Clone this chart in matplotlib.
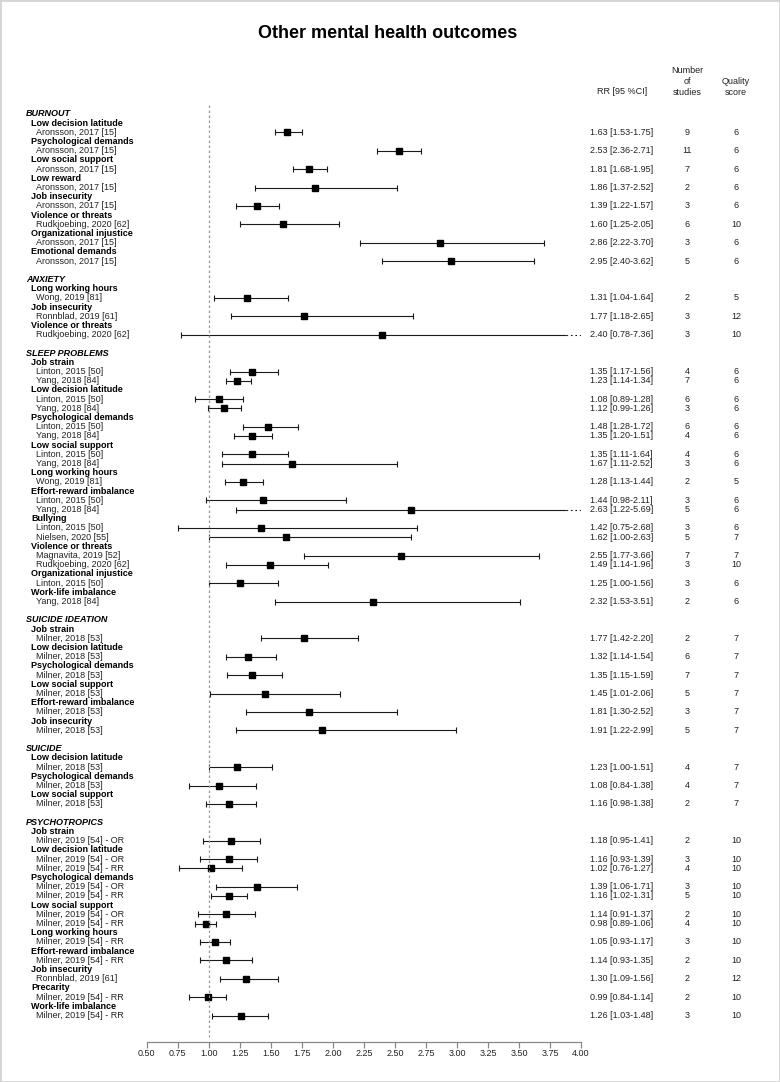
import matplotlib
matplotlib.use("Agg")
import matplotlib.pyplot as plt
from matplotlib.transforms import blended_transform_factory
from matplotlib.patches import Rectangle

plt.rcParams['font.family'] = ['Liberation Sans', 'DejaVu Sans']

# one entry per study row
outcome = (["BURNOUT"] * 8 + ["ANXIETY"] * 3 + ["SLEEP PROBLEMS"] * 17
           + ["SUICIDE IDEATION"] * 6 + ["SUICIDE"] * 3 + ["PSYCHOTROPICS"] * 12)
exposure = [
    "Low decision latitude", "Psychological demands", "Low social support", "Low reward",
    "Job insecurity", "Violence or threats", "Organizational injustice", "Emotional demands",
    "Long working hours", "Job insecurity", "Violence or threats",
    "Job strain", "Job strain", "Low decision latitude", "Low decision latitude",
    "Psychological demands", "Psychological demands", "Low social support", "Low social support",
    "Long working hours", "Effort-reward imbalance", "Effort-reward imbalance",
    "Bullying", "Bullying", "Violence or threats", "Violence or threats",
    "Organizational injustice", "Work-life imbalance",
    "Job strain", "Low decision latitude", "Psychological demands", "Low social support",
    "Effort-reward imbalance", "Job insecurity",
    "Low decision latitude", "Psychological demands", "Low social support",
    "Job strain", "Low decision latitude", "Low decision latitude",
    "Psychological demands", "Psychological demands", "Low social support", "Low social support",
    "Long working hours", "Effort-reward imbalance", "Job insecurity", "Precarity",
    "Work-life imbalance",
]
study = (
    ["Aronsson, 2017 [15]"] * 5 + ["Rudkjoebing, 2020 [62]"] + ["Aronsson, 2017 [15]"] * 2
    + ["Wong, 2019 [81]", "Ronnblad, 2019 [61]", "Rudkjoebing, 2020 [62]"]
    + ["Linton, 2015 [50]", "Yang, 2018 [84]"] * 4
    + ["Wong, 2019 [81]", "Linton, 2015 [50]", "Yang, 2018 [84]",
       "Linton, 2015 [50]", "Nielsen, 2020 [55]", "Magnavita, 2019 [52]",
       "Rudkjoebing, 2020 [62]", "Linton, 2015 [50]", "Yang, 2018 [84]"]
    + ["Milner, 2018 [53]"] * 9
    + ["Milner, 2019 [54] - OR", "Milner, 2019 [54] - OR", "Milner, 2019 [54] - RR",
       "Milner, 2019 [54] - OR", "Milner, 2019 [54] - RR", "Milner, 2019 [54] - OR",
       "Milner, 2019 [54] - RR", "Milner, 2019 [54] - RR", "Milner, 2019 [54] - RR",
       "Ronnblad, 2019 [61]", "Milner, 2019 [54] - RR", "Milner, 2019 [54] - RR"]
)
rr = [1.63, 2.53, 1.81, 1.86, 1.39, 1.60, 2.86, 2.95,
      1.31, 1.77, 2.40,
      1.35, 1.23, 1.08, 1.12, 1.48, 1.35, 1.35, 1.67, 1.28, 1.44, 2.63,
      1.42, 1.62, 2.55, 1.49, 1.25, 2.32,
      1.77, 1.32, 1.35, 1.45, 1.81, 1.91,
      1.23, 1.08, 1.16,
      1.18, 1.16, 1.02, 1.39, 1.16, 1.14, 0.98, 1.05, 1.14, 1.30, 0.99, 1.26]
lo = [1.53, 2.36, 1.68, 1.37, 1.22, 1.25, 2.22, 2.40,
      1.04, 1.18, 0.78,
      1.17, 1.14, 0.89, 0.99, 1.28, 1.20, 1.11, 1.11, 1.13, 0.98, 1.22,
      0.75, 1.00, 1.77, 1.14, 1.00, 1.53,
      1.42, 1.14, 1.15, 1.01, 1.30, 1.22,
      1.00, 0.84, 0.98,
      0.95, 0.93, 0.76, 1.06, 1.02, 0.91, 0.89, 0.93, 0.93, 1.09, 0.84, 1.03]
hi = [1.75, 2.71, 1.95, 2.52, 1.57, 2.05, 3.70, 3.62,
      1.64, 2.65, 7.36,
      1.56, 1.34, 1.28, 1.26, 1.72, 1.51, 1.64, 2.52, 1.44, 2.11, 5.69,
      2.68, 2.63, 3.66, 1.96, 1.56, 3.51,
      2.20, 1.54, 1.59, 2.06, 2.52, 2.99,
      1.51, 1.38, 1.38,
      1.41, 1.39, 1.27, 1.71, 1.31, 1.37, 1.06, 1.17, 1.35, 1.56, 1.14, 1.48]
n_studies = [9, 11, 7, 2, 3, 6, 3, 5,
             2, 3, 3,
             4, 7, 6, 3, 6, 4, 4, 3, 2, 3, 5, 3, 5, 7, 3, 3, 2,
             2, 6, 7, 5, 3, 5,
             4, 4, 2,
             2, 3, 4, 3, 5, 2, 4, 3, 2, 2, 2, 3]
quality = [6, 6, 6, 6, 6, 10, 6, 6,
           5, 12, 10,
           6, 6, 6, 6, 6, 6, 6, 6, 5, 6, 6, 6, 7, 7, 10, 6, 6,
           7, 7, 7, 7, 7, 7,
           7, 7, 7,
           10, 10, 10, 10, 10, 10, 10, 10, 10, 12, 10, 10]

xticks = [0.5, 0.75, 1.0, 1.25, 1.5, 1.75, 2.0, 2.25, 2.5, 2.75, 3.0, 3.25, 3.5, 3.75, 4.0]

W, H = 780, 1082
fig = plt.figure(figsize=(W / 100, H / 100), dpi=100)
fig.add_artist(Rectangle((0, 0), 1, 1, transform=fig.transFigure, fill=False,
                         edgecolor='#d4d4d4', lw=2))

# forest axis, pixel positions measured on the reference
x0, x1 = 146.7, 581.0
ytop, ybot = 105.0, 1041.5
ax = fig.add_axes([x0 / W, 1 - ybot / H, (x1 - x0) / W, (ybot - ytop) / H])
row_h = 9.2
first_row = 114.0
ax.set_xlim(0.5, 4.0)
ax.set_ylim((ybot - first_row) / row_h, (ytop - first_row) / row_h)

fs = 6.5
tr = blended_transform_factory(fig.transFigure, ax.transData)

def fx(px):
    return px / W

row = 0
prev_out, prev_exp = None, None
for i in range(len(rr)):
    if outcome[i] != prev_out:
        if prev_out is not None:
            row += 1
        ax.text(fx(26), row, outcome[i], transform=tr, fontsize=fs, fontweight='bold',
                style='italic', va='center', ha='left')
        row += 1
        prev_out = outcome[i]
        prev_exp = None
    if exposure[i] != prev_exp:
        ax.text(fx(31), row, exposure[i], transform=tr, fontsize=fs, fontweight='bold',
                va='center', ha='left')
        row += 1
        prev_exp = exposure[i]
    ax.text(fx(36), row, study[i], transform=tr, fontsize=fs, va='center', ha='left',
            color='#222222')
    ax.text(fx(590), row, f"{rr[i]:.2f} [{lo[i]:.2f}-{hi[i]:.2f}]", transform=tr,
            fontsize=fs, va='center', ha='left', color='#222222')
    ax.text(fx(687.5), row, str(n_studies[i]), transform=tr, fontsize=fs,
            va='center', ha='center', color='#222222')
    ax.text(fx(736), row, str(quality[i]), transform=tr, fontsize=fs,
            va='center', ha='center', color='#222222')

    lc = '#1a1a1a'
    if hi[i] > 4.0:
        ax.plot([lo[i], 3.88], [row, row], color=lc, lw=0.8, solid_capstyle='butt')
        ax.plot([3.88, 4.0], [row, row], color=lc, lw=0.8, ls=(0, (1.5, 2.5)))
        ax.plot([lo[i]], [row], marker='|', ms=5, mew=0.8, color=lc)
    else:
        ax.plot([lo[i], hi[i]], [row, row], color=lc, lw=0.8, solid_capstyle='butt')
        ax.plot([lo[i], hi[i]], [row, row], ls='none', marker='|', ms=5, mew=0.8, color=lc)
    ax.plot([rr[i]], [row], marker='s', ms=5, color='black', ls='none')
    row += 1

ax.plot([1.0, 1.0], [(ytop - first_row) / row_h, (1037 - first_row) / row_h],
        color='#999999', lw=0.9, ls=(0, (2, 2)))

for s in ['top', 'right', 'left']:
    ax.spines[s].set_visible(False)
ax.spines['bottom'].set_color('#888888')
ax.spines['bottom'].set_linewidth(0.9)
ax.set_yticks([])
ax.set_xticks(xticks)
ax.set_xticklabels([f"{t:.2f}" for t in xticks])
ax.tick_params(axis='x', direction='out', length=4, width=0.9, color='#888888',
               labelsize=fs, labelcolor='#222222', pad=1.5)

# column headers
fig.text(fx(622), 1 - 92 / H, "RR [95 %CI]", fontsize=fs,
         ha='center', va='center', color='#222222')
fig.text(fx(687.5), 1 - 81.3 / H, "Number\nof\nstudies", fontsize=fs, ha='center',
         va='center', multialignment='center', color='#222222', linespacing=1.25)
fig.text(fx(736), 1 - 87 / H, "Quality\nscore", fontsize=fs, ha='center',
         va='center', multialignment='center', color='#222222', linespacing=1.25)

fig.text(0.497, 1 - 33 / H, "Other mental health outcomes", fontsize=13,
         fontweight='bold', ha='center', va='center')

fig.savefig("out.png", dpi=100)
